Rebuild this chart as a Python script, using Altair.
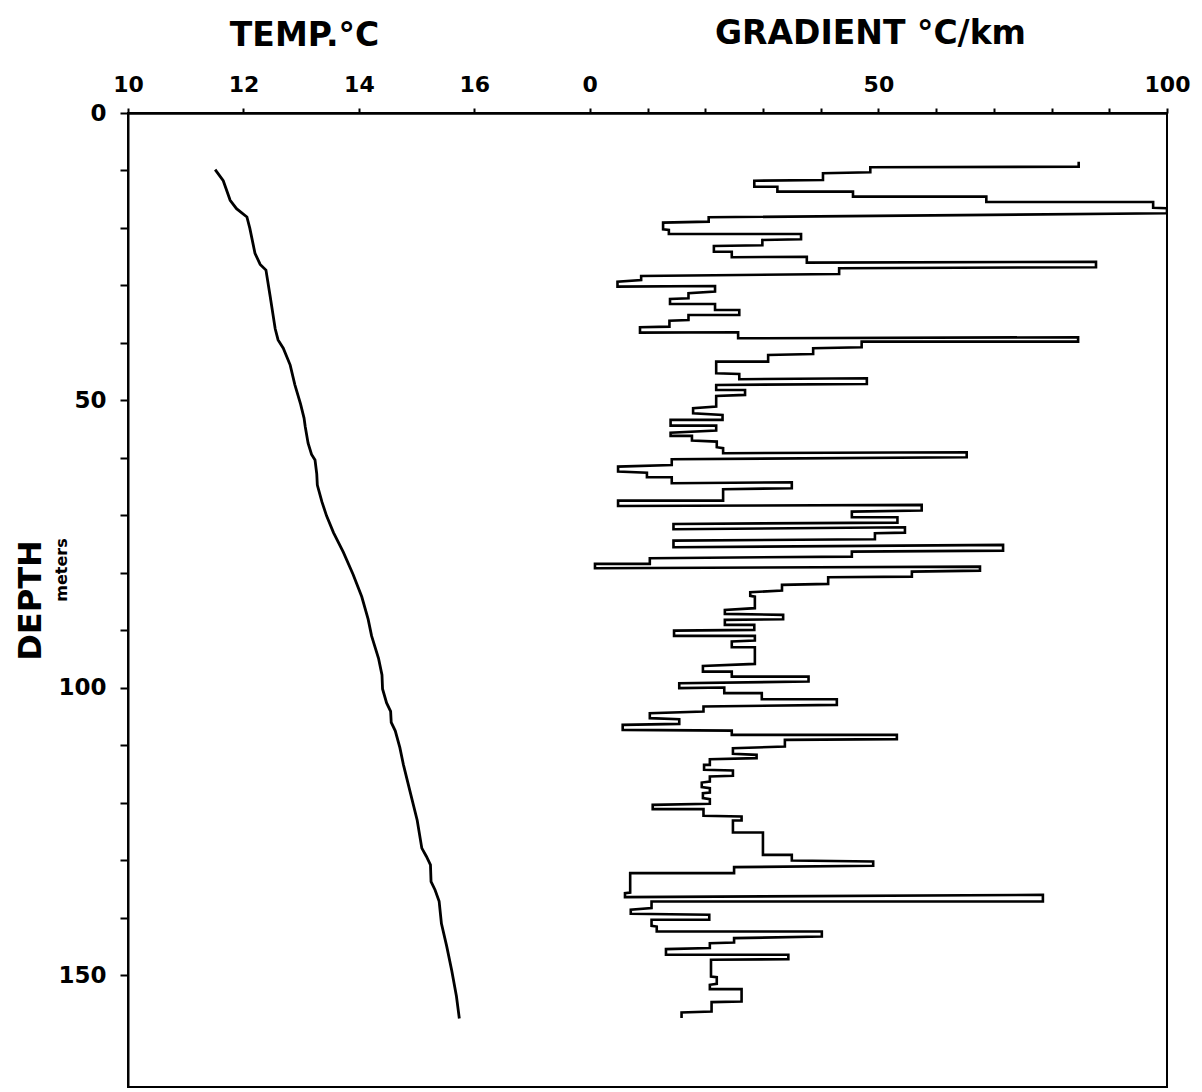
import altair as alt
import pandas as pd

# ---------------- data ----------------
# Temperature profile (deg C) versus depth (m)
temp_depth = [9.84, 11.77, 15.18, 16.64, 18.08, 20.03, 24.41, 26.34, 27.32, 31.70,
              37.52, 39.47, 40.91, 43.84, 47.23, 50.63, 53.07, 54.51, 57.43, 59.38,
              60.36, 62.77, 64.72, 67.64, 70.06, 72.98, 76.37, 80.26, 84.14, 88.04,
              90.94, 94.84, 97.74, 100.17, 102.61, 104.07, 106.00, 107.46, 110.38, 113.28,
              118.15, 123.00, 127.86, 129.31, 130.78, 133.68, 135.14, 137.09, 140.97, 144.86,
              149.23, 153.61, 157.49]
temp_val = [11.51, 11.65, 11.77, 11.88, 12.06, 12.11, 12.20, 12.29, 12.39, 12.46,
            12.55, 12.60, 12.69, 12.81, 12.89, 12.99, 13.05, 13.07, 13.12, 13.18,
            13.24, 13.27, 13.28, 13.36, 13.44, 13.56, 13.73, 13.90, 14.05, 14.16,
            14.22, 14.34, 14.40, 14.41, 14.48, 14.55, 14.56, 14.63, 14.71, 14.77,
            14.89, 15.01, 15.09, 15.17, 15.24, 15.25, 15.32, 15.39, 15.43, 15.52,
            15.61, 15.69, 15.74]

# Gradient profile (deg C / km): each interval has a top depth, bottom depth and value
grad_top = [8.47, 9.44, 10.49, 11.77, 12.82, 13.68, 14.55, 15.48, 16.57, 18.14,
            19.07, 20.34, 21.04, 22.08, 23.13, 24.12, 24.99, 25.86, 27.00, 28.34,
            29.33, 30.08, 31.35, 32.34, 33.21, 34.25, 35.12, 36.12, 37.26, 38.13,
            39.00, 39.77, 40.91, 42.08, 43.24, 45.38, 46.13, 47.30, 48.17, 49.21,
            51.35, 52.51, 53.38, 54.37, 55.59, 56.16, 57.15, 58.30, 59.00, 60.22,
            61.50, 62.55, 63.35, 64.21, 65.43, 67.41, 68.16, 69.33, 70.30, 71.47,
            72.04, 73.08, 74.37, 75.12, 76.28, 77.43, 78.42, 78.89, 79.76, 80.73,
            82.07, 83.34, 84.11, 86.42, 87.29, 88.16, 89.03, 90.02, 90.94, 91.93,
            92.91, 96.16, 97.15, 98.02, 99.17, 99.93, 100.90, 101.95, 103.23, 104.38,
            105.42, 106.42, 107.41, 108.16, 109.02, 110.47, 111.63, 112.38, 113.37, 114.36,
            115.41, 116.45, 117.42, 118.29, 119.34, 120.33, 121.07, 122.36, 123.06, 125.14,
            129.02, 130.19, 131.16, 132.20, 135.68, 135.98, 137.14, 138.58, 139.45, 140.32,
            141.49, 142.36, 143.51, 144.38, 145.42, 146.41, 147.28, 150.29, 151.62, 152.37,
            154.63, 156.45]
grad_bot = [9.34, 10.31, 11.65, 12.82, 13.68, 14.55, 15.48, 16.47, 17.44, 18.90,
            20.22, 21.04, 21.96, 23.00, 24.12, 25.09, 26.03, 26.83, 27.99, 29.04,
            30.20, 31.07, 32.22, 33.21, 34.25, 35.12, 35.99, 37.16, 38.20, 39.18,
            39.77, 40.74, 41.91, 43.24, 45.26, 46.30, 47.12, 48.17, 49.03, 51.07,
            52.22, 53.38, 54.37, 55.24, 56.16, 56.98, 58.13, 59.17, 59.87, 61.21,
            62.37, 63.35, 64.39, 65.26, 67.41, 68.34, 69.15, 70.30, 71.24, 72.39,
            72.98, 74.13, 75.52, 76.11, 77.15, 78.42, 79.17, 79.59, 80.63, 81.90,
            83.06, 83.98, 86.12, 87.12, 88.04, 89.03, 89.90, 90.94, 91.76, 92.91,
            95.81, 97.15, 98.02, 98.89, 100.03, 100.90, 101.95, 102.94, 104.10, 105.25,
            106.24, 107.29, 108.16, 108.90, 110.19, 111.46, 112.21, 113.37, 114.24, 115.28,
            116.28, 117.25, 118.19, 119.16, 120.15, 121.07, 122.24, 123.06, 125.14, 129.02,
            130.01, 130.93, 132.20, 135.57, 136.38, 137.14, 138.29, 139.28, 140.32, 141.37,
            142.36, 143.23, 144.27, 145.24, 146.41, 147.16, 150.18, 151.45, 152.37, 154.53,
            156.27, 157.42]
grad_val = [84.7, 48.6, 40.4, 28.5, 32.5, 45.6, 68.7, 97.6, 100.0, 20.6,
            12.7, 13.7, 36.6, 29.9, 21.5, 24.6, 37.6, 87.7, 43.2, 8.9,
            4.8, 21.7, 17.1, 13.9, 21.7, 25.9, 17.1, 13.8, 8.7, 25.7,
            84.6, 47.1, 38.7, 30.9, 21.9, 25.9, 48.0, 21.9, 26.9, 21.9,
            17.9, 23.0, 14.0, 21.9, 14.0, 17.7, 22.0, 23.1, 65.3, 14.2,
            4.9, 9.9, 14.2, 35.0, 23.1, 4.9, 57.5, 45.4, 53.3, 14.5,
            54.6, 49.4, 14.5, 71.6, 45.4, 10.4, 0.9, 67.6, 55.8, 41.3,
            33.3, 27.8, 28.6, 23.4, 33.5, 23.4, 28.5, 14.6, 28.6, 24.6,
            28.6, 19.6, 24.6, 37.9, 15.5, 23.3, 29.8, 42.8, 19.7, 10.4,
            15.5, 5.7, 24.6, 53.2, 33.8, 24.8, 28.9, 20.8, 19.8, 24.8,
            20.8, 19.4, 20.8, 19.6, 20.8, 10.9, 19.7, 26.3, 24.8, 30.0,
            35.0, 49.1, 25.0, 7.0, 6.1, 78.5, 10.7, 7.1, 20.7, 10.7,
            11.6, 40.2, 25.0, 20.8, 13.2, 34.4, 21.0, 22.0, 20.8, 26.3,
            21.1, 15.9]

depth_ticks = [0, 10, 20, 30, 40, 50, 60, 70, 80, 90, 100, 110, 120, 130, 140, 150]
temp_ticks = [10, 12, 14, 16]
grad_ticks = [0, 10, 20, 30, 40, 50, 60, 70, 80, 90, 100]

# ---------------- tables ----------------
temp_df = pd.DataFrame({"temp": temp_val, "depth": temp_depth,
                        "idx": list(range(len(temp_val)))})
rows = []
for i, (t, b, v) in enumerate(zip(grad_top, grad_bot, grad_val)):
    rows.append({"g": v, "depth": t, "idx": 2 * i})
    rows.append({"g": v, "depth": b, "idx": 2 * i + 1})
grad_df = pd.DataFrame(rows)

FONT = "DejaVu Sans"
W, H = 1039, 974

y_enc = alt.Y(
    "depth:Q",
    scale=alt.Scale(domain=[0, 169.4], reverse=True, nice=False, zero=False),
    axis=alt.Axis(
        orient="left", values=depth_ticks,
        labelExpr="datum.value % 50 == 0 ? datum.label : ''",
        title="DEPTH", titleX=-98, titleY=487, titleAngle=270,
        titleAlign="center", titleBaseline="middle",
        titleFont=FONT, titleFontSize=32, titleFontWeight="bold", titleColor="black",
        labelFont=FONT, labelFontSize=23, labelFontWeight="bold", labelColor="black",
        labelPadding=14, tickSize=8, tickWidth=2, tickColor="black",
        domainColor="black", domainWidth=2, grid=False,
    ),
)

temp_line = alt.Chart(temp_df).mark_line(color="black", strokeWidth=2.8).encode(
    x=alt.X(
        "temp:Q",
        scale=alt.Scale(domain=[10, 28], nice=False, zero=False),
        axis=alt.Axis(
            orient="top", values=temp_ticks, labelFlush=False,
            title="TEMP.°C", titleX=176, titleY=-68, titleAlign="center",
            titleBaseline="alphabetic", titleAnchor="start",
            titleFont=FONT, titleFontSize=33, titleFontWeight="bold", titleColor="black",
            labelFont=FONT, labelFontSize=22, labelFontWeight="bold", labelColor="black",
            labelPadding=12, tickSize=5, tickWidth=2, tickColor="black",
            domainColor="black", domainWidth=2, grid=False,
        ),
    ),
    y=y_enc,
    order="idx:Q",
)

grad_line = alt.Chart(grad_df).mark_line(color="black", strokeWidth=2.6, clip=True).encode(
    x=alt.X(
        "g:Q",
        scale=alt.Scale(domain=[-80, 100], nice=False, zero=False),
        axis=alt.Axis(
            orient="top", values=grad_ticks, labelFlush=False,
            labelExpr="datum.value % 50 == 0 ? datum.label : ''",
            title="GRADIENT °C/km", titleX=742, titleY=-70, titleAlign="center",
            titleBaseline="alphabetic", titleAnchor="start",
            titleFont=FONT, titleFontSize=33, titleFontWeight="bold", titleColor="black",
            labelFont=FONT, labelFontSize=22, labelFontWeight="bold", labelColor="black",
            labelPadding=12, tickSize=5, tickWidth=2, tickColor="black",
            domainColor="black", domainWidth=2, grid=False,
        ),
    ),
    y=alt.Y("depth:Q"),
    order="idx:Q",
)

meters = alt.Chart(pd.DataFrame({"t": ["meters"]})).mark_text(
    angle=270, font=FONT, fontSize=16, fontWeight="bold", color="black",
    align="center", baseline="middle",
).encode(x=alt.value(-66), y=alt.value(457), text="t:N")

chart = (
    alt.layer(temp_line, grad_line, meters)
    .resolve_scale(x="independent")
    .properties(
        width=W, height=H,
        padding={"left": 120, "top": 105, "right": 27, "bottom": 4},
        autosize=alt.AutoSizeParams(type="none"),
        background="white",
    )
    .configure_view(stroke="black", strokeWidth=2)
)

chart.save("out.html", embed_options={"renderer": "svg", "actions": False})
